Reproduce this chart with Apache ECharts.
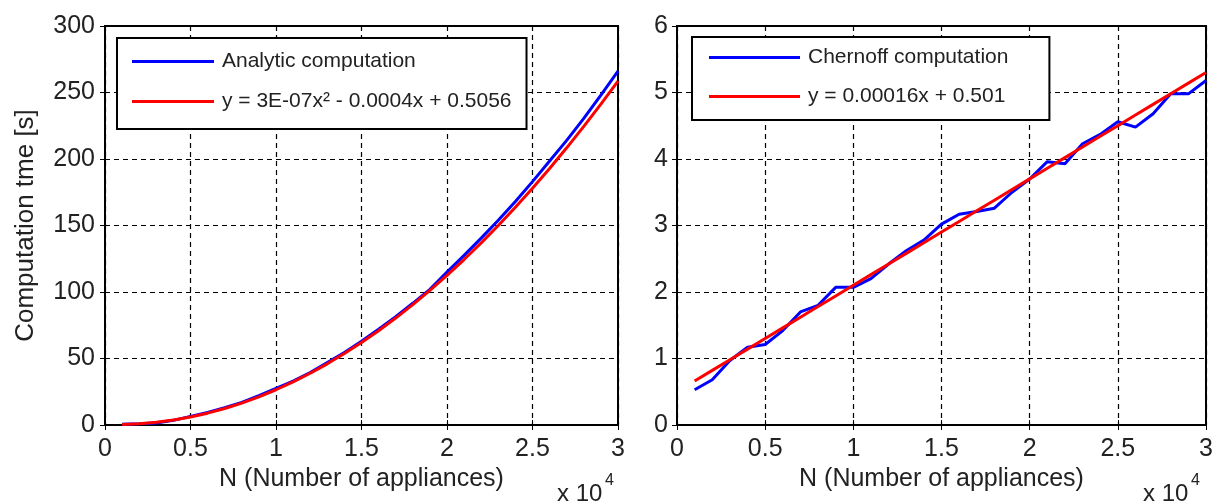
<!DOCTYPE html>
<html>
<head>
<meta charset="utf-8">
<script src="https://cdn.jsdelivr.net/npm/echarts@6/dist/echarts.min.js"></script>
<style>
html, body { margin: 0; padding: 0; background: #fff; }
#main { width: 1217px; height: 504px; }
</style>
</head>
<body>
<div id="main"></div>
<script>
// N values (number of appliances), shared by both panels
var nValues = [1000, 2000, 3000, 4000, 5000, 6000, 7000, 8000, 9000, 10000,
    11000, 12000, 13000, 14000, 15000, 16000, 17000, 18000, 19000, 20000,
    21000, 22000, 23000, 24000, 25000, 26000, 27000, 28000, 29000, 30000];

// left panel: analytic computation time and its quadratic fit
var analyticTime = [0.5, 0.9, 1.5, 3.5, 6.5, 9.5, 13, 17, 22, 27.5,
    33, 39.5, 47, 54.5, 63, 72, 81.5, 91.5, 102, 115,
    127.5, 140.5, 154, 168, 183, 198.5, 214, 230.5, 248, 266];
var analyticFit = [0.41, 0.91, 2.0, 3.7, 6.0, 8.9, 12.4, 16.5, 21.2, 26.5,
    32.4, 38.9, 46.0, 53.7, 62.0, 70.9, 80.4, 90.5, 101.2, 112.5,
    124.4, 136.9, 150.0, 163.7, 178.0, 192.9, 208.4, 224.5, 241.2, 258.5];

// right panel: chernoff computation time and its linear fit
var chernoffTime = [0.53, 0.68, 0.97, 1.17, 1.21, 1.42, 1.70, 1.80, 2.07, 2.07,
    2.20, 2.42, 2.62, 2.78, 3.02, 3.17, 3.21, 3.26, 3.50, 3.70,
    3.96, 3.93, 4.23, 4.37, 4.56, 4.48, 4.68, 4.98, 4.98, 5.18];
var chernoffFit = [0.661, 0.821, 0.981, 1.141, 1.301, 1.461, 1.621, 1.781, 1.941, 2.101,
    2.261, 2.421, 2.581, 2.741, 2.901, 3.061, 3.221, 3.381, 3.541, 3.701,
    3.861, 4.021, 4.181, 4.341, 4.501, 4.661, 4.821, 4.981, 5.141, 5.301];

var leftNames = ['Analytic computation', 'y = 3E-07x\u00b2 - 0.0004x + 0.5056'];
var rightNames = ['Chernoff computation', 'y = 0.00016x + 0.501'];

function pairs(ys) {
    return nValues.map(function (n, i) { return [n, ys[i]]; });
}

var font = 'Liberation Sans, Arial, sans-serif';
var textColor = '#222';

function bottomAxis(gi) {
    return {
        type: 'value', gridIndex: gi, min: 0, max: 30000, interval: 5000,
        name: 'N (Number of appliances)', nameLocation: 'middle', nameGap: 32,
        nameTextStyle: { fontSize: 25, fontFamily: font, color: textColor },
        axisLine: { show: false },
        axisTick: { show: true, inside: true, length: 5, lineStyle: { color: '#000', width: 1 } },
        axisLabel: {
            fontSize: 25, fontFamily: font, color: textColor, margin: 12,
            formatter: function (v) { return v / 10000; }
        },
        splitLine: { show: true, lineStyle: { color: '#000', width: 1.2, type: [5, 4] } }
    };
}
function topAxis(gi) {
    return {
        type: 'value', gridIndex: gi, position: 'top', min: 0, max: 30000, interval: 5000,
        axisLine: { show: false },
        axisTick: { show: true, inside: true, length: 5, lineStyle: { color: '#000', width: 1 } },
        axisLabel: { show: false },
        splitLine: { show: false }
    };
}
function leftAxis(gi, max, step, margin) {
    return {
        type: 'value', gridIndex: gi, min: 0, max: max, interval: step,
        axisLine: { show: false },
        axisTick: { show: true, inside: true, length: 5, lineStyle: { color: '#000', width: 1 } },
        axisLabel: { fontSize: 25, fontFamily: font, color: textColor, margin: margin },
        splitLine: { show: true, lineStyle: { color: '#000', width: 1.2, type: [5, 4] } }
    };
}
function rightAxis(gi, max, step) {
    return {
        type: 'value', gridIndex: gi, position: 'right', min: 0, max: max, interval: step,
        axisLine: { show: false },
        axisTick: { show: true, inside: true, length: 5, lineStyle: { color: '#000', width: 1 } },
        axisLabel: { show: false },
        splitLine: { show: false }
    };
}
function legendBox(names, left, top, iw, gap, pad) {
    return {
        orient: 'vertical', left: left, top: top, data: names,
        selectedMode: false, icon: 'rect', itemWidth: iw, itemHeight: 3, itemGap: gap,
        padding: pad, backgroundColor: '#fff', borderColor: '#000', borderWidth: 2,
        textStyle: { fontSize: 21, fontFamily: font, color: textColor, padding: [0, 0, 0, 3] }
    };
}
function lineSeries(name, ys, color, gi) {
    return {
        name: name, type: 'line', xAxisIndex: gi, yAxisIndex: gi,
        data: pairs(ys), symbol: 'none', showSymbol: false,
        lineStyle: { color: color, width: 3 }, itemStyle: { color: color }
    };
}

var myChart = echarts.init(document.getElementById('main'));
var option = {
    animation: false,
    backgroundColor: '#fff',
    grid: [
        { left: 105, top: 26, width: 513, height: 399, show: true, borderColor: '#000', borderWidth: 2, backgroundColor: '#fff' },
        { left: 677, top: 26, width: 529, height: 399, show: true, borderColor: '#000', borderWidth: 2, backgroundColor: '#fff' }
    ],
    xAxis: [bottomAxis(0), bottomAxis(1), topAxis(0), topAxis(1)],
    yAxis: [
        (function () {
            var a = leftAxis(0, 300, 50, 10);
            a.name = 'Computation tme [s]';
            a.nameLocation = 'middle';
            a.nameGap = 66;
            a.nameTextStyle = { fontSize: 26, fontFamily: font, color: textColor };
            return a;
        })(),
        leftAxis(1, 6, 1, 9),
        rightAxis(0, 300, 50),
        rightAxis(1, 6, 1)
    ],
    legend: [
        legendBox(leftNames, 117, 38, 82, 19, [13, 15, 17, 15]),
        legendBox(rightNames, 692, 37, 91, 18, [10, 41, 13, 17])
    ],
    graphic: [
        { type: 'text', left: 557, top: 482, style: { text: 'x 10', fontSize: 24, fontFamily: font, fill: textColor } },
        { type: 'text', left: 605, top: 473, style: { text: '4', fontSize: 16, fontFamily: font, fill: textColor } },
        { type: 'text', left: 1143, top: 482, style: { text: 'x 10', fontSize: 24, fontFamily: font, fill: textColor } },
        { type: 'text', left: 1191, top: 473, style: { text: '4', fontSize: 16, fontFamily: font, fill: textColor } }
    ],
    series: [
        lineSeries(leftNames[0], analyticTime, '#0000ff', 0),
        lineSeries(leftNames[1], analyticFit, '#ff0000', 0),
        lineSeries(rightNames[0], chernoffTime, '#0000ff', 1),
        lineSeries(rightNames[1], chernoffFit, '#ff0000', 1)
    ]
};
myChart.setOption(option);
</script>
</body>
</html>
